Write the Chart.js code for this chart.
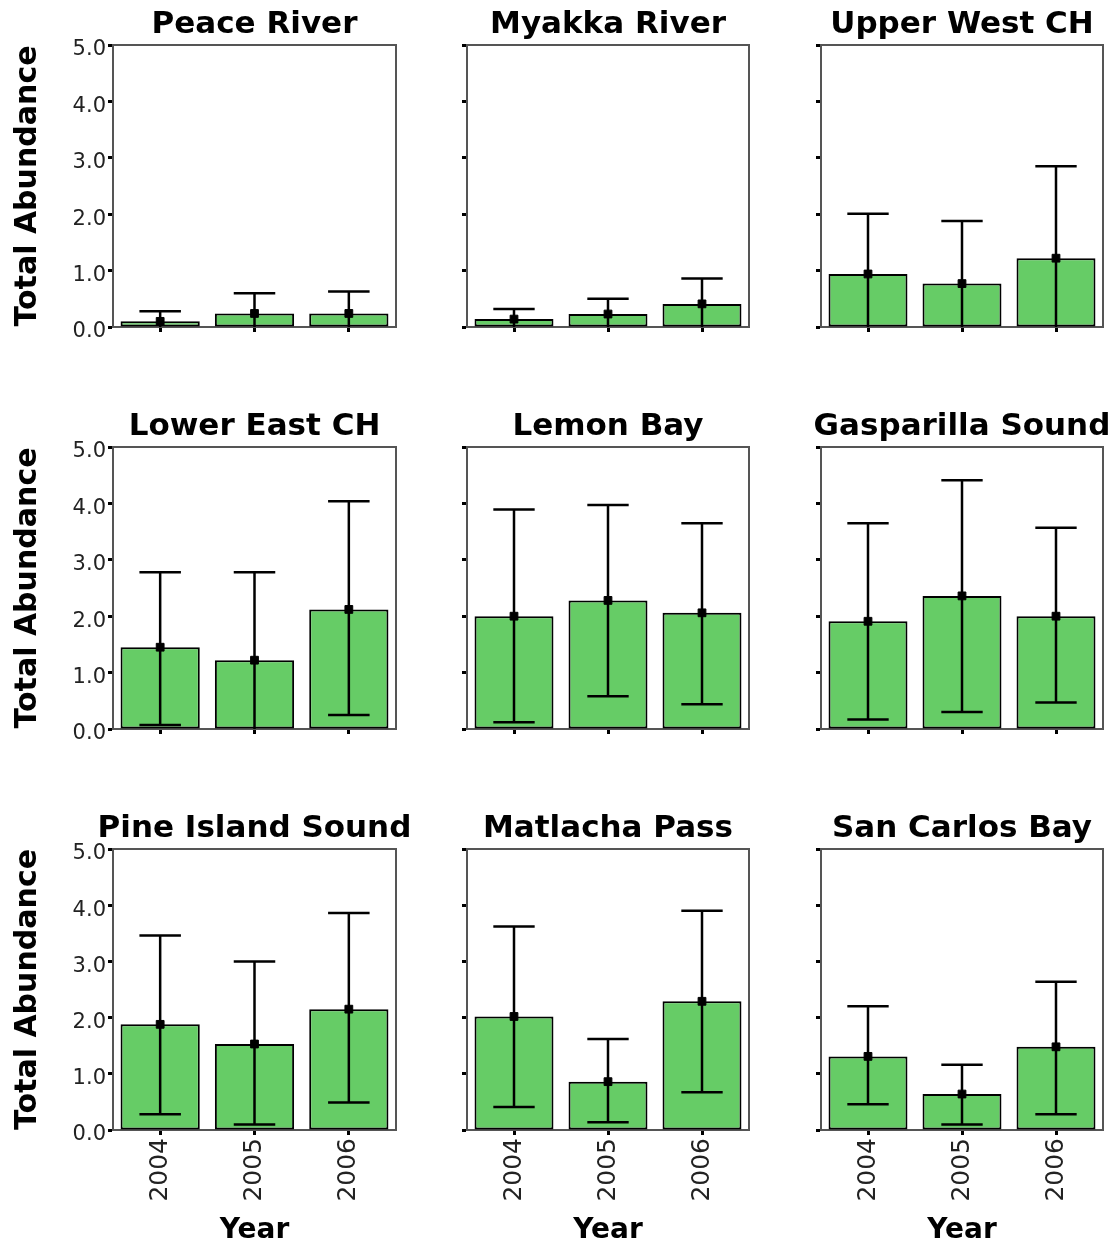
<!DOCTYPE html>
<html>
<head>
<meta charset="utf-8">
<title>Total Abundance by Year</title>
<script src="https://cdn.jsdelivr.net/npm/chart.js@4.4.1/dist/chart.umd.min.js"></script>
<style>
  html, body { margin: 0; padding: 0; background: #fff; overflow: hidden; }
  #grid { position: relative; width: 1120px; height: 1247px; }
  #grid canvas { position: absolute; }
</style>
</head>
<body>
<div id="grid"></div>
<script>
const sites = ['Peace River', 'Myakka River', 'Upper West CH',
               'Lower East CH', 'Lemon Bay', 'Gasparilla Sound',
               'Pine Island Sound', 'Matlacha Pass', 'San Carlos Bay'];
const years = ['2004', '2005', '2006'];
const yTicks = [0, 1, 2, 3, 4, 5];

// mean total abundance (bar height) per site, 2004-2006
const meanValues = [
    [0.10, 0.24, 0.24],
    [0.14, 0.23, 0.41],
    [0.94, 0.77, 1.22],
    [1.45, 1.22, 2.12],
    [2.00, 2.28, 2.06],
    [1.91, 2.36, 2.00],
    [1.88, 1.53, 2.15],
    [2.02, 0.86, 2.29],
    [1.31, 0.64, 1.48]
];
// upper end of error bar
const upperValues = [
    [0.28, 0.60, 0.63],
    [0.32, 0.50, 0.86],
    [2.01, 1.88, 2.85],
    [2.78, 2.78, 4.04],
    [3.89, 3.97, 3.65],
    [3.65, 4.41, 3.57],
    [3.46, 3.00, 3.86],
    [3.62, 1.62, 3.90],
    [2.20, 1.16, 2.64]
];
// lower end of error bar (below zero = cut off by the axis)
const lowerValues = [
    [-0.08, -0.12, -0.15],
    [-0.04, -0.04, -0.04],
    [-0.13, -0.34, -0.41],
    [0.07, -0.34, 0.25],
    [0.12, 0.58, 0.44],
    [0.17, 0.30, 0.47],
    [0.28, 0.10, 0.49],
    [0.41, 0.14, 0.67],
    [0.46, 0.10, 0.28]
];

// panel placement
const colLeft = [0, 440, 794];
const colGutter = [113, 27, 27];
const colPlotWidth = [283, 282, 282];
const rowTop = [0, 402, 804];
const rowPlotHeight = [282, 282, 281];
const rowAxisHeight = [10, 10, 116];
const titleHeight = 45;

Chart.defaults.font.family = 'DejaVu Sans';
Chart.defaults.color = '#222';

/**
 * Error bars drawn on top of the bars, using the chart's own scales
 */
function makeErrorBars(upper, lower) {
    return {
        id: 'errorBars',
        afterDatasetsDraw(chart) {
            const {ctx, scales} = chart;
            const x = scales.x, y = scales.y;
            const capHalf = (x.getPixelForValue(1) - x.getPixelForValue(0)) * 0.22;
            ctx.save();
            ctx.strokeStyle = '#000';
            ctx.lineWidth = 2.5;
            upper.forEach((hi, i) => {
                const cx = x.getPixelForValue(i);
                const top = y.getPixelForValue(hi);
                const bottom = y.getPixelForValue(Math.max(lower[i], 0));
                ctx.beginPath();
                ctx.moveTo(cx, top);
                ctx.lineTo(cx, bottom);
                ctx.moveTo(cx - capHalf, top);
                ctx.lineTo(cx + capHalf, top);
                if (lower[i] >= 0) {
                    ctx.moveTo(cx - capHalf, bottom);
                    ctx.lineTo(cx + capHalf, bottom);
                }
                ctx.stroke();
            });
            ctx.restore();
        }
    };
}

function buildPanel(index) {
    const row = Math.floor(index / 3);
    const col = index % 3;
    const gutter = colGutter[col];

    const canvas = document.createElement('canvas');
    canvas.width = gutter * 2 + colPlotWidth[col];
    canvas.height = titleHeight + rowPlotHeight[row] + rowAxisHeight[row];
    canvas.style.left = colLeft[col] + 'px';
    canvas.style.top = rowTop[row] + 'px';
    document.getElementById('grid').appendChild(canvas);

    const frame = {color: '#555', width: 2};
    const tickMarks = {drawOnChartArea: false, drawTicks: true, tickLength: 5, tickWidth: 3, tickColor: '#000'};

    new Chart(canvas.getContext('2d'), {
        type: 'bar',
        data: {
            labels: years,
            datasets: [{
                type: 'line',
                data: meanValues[index],
                showLine: false,
                pointStyle: 'rect',
                pointRadius: 5.5,
                pointBackgroundColor: '#000',
                pointBorderColor: '#000',
                xAxisID: 'x',
                yAxisID: 'y',
                order: 0
            }, {
                data: meanValues[index],
                backgroundColor: '#66cc66',
                borderColor: '#000',
                borderWidth: 2,
                borderSkipped: false,
                barPercentage: 0.84,
                categoryPercentage: 1,
                xAxisID: 'x',
                yAxisID: 'y',
                order: 1
            }]
        },
        options: {
            responsive: false,
            animation: false,
            events: [],
            layout: {padding: 0},
            plugins: {
                legend: {display: false},
                tooltip: {enabled: false},
                title: {
                    display: true,
                    text: sites[index],
                    color: '#000',
                    font: {size: 31, weight: 'bold', lineHeight: 1},
                    padding: {top: 9, bottom: 5}
                }
            },
            scales: {
                x: {
                    type: 'category',
                    position: 'bottom',
                    offset: true,
                    grid: Object.assign({offset: false}, tickMarks),
                    border: frame,
                    ticks: {
                        display: row === 2,
                        autoSkip: false,
                        minRotation: 90,
                        maxRotation: 90,
                        padding: 3,
                        color: '#222',
                        font: {size: 25}
                    },
                    title: {
                        display: row === 2,
                        text: 'Year',
                        color: '#000',
                        font: {size: 28, weight: 'bold', lineHeight: 1},
                        padding: {top: 0, bottom: 1}
                    },
                    afterFit: s => {
                        s.height = rowAxisHeight[row];
                        s.paddingLeft = 0;
                        s.paddingRight = 0;
                    }
                },
                xT: {
                    type: 'category',
                    position: 'top',
                    grid: {display: false},
                    ticks: {display: false},
                    border: frame,
                    afterFit: s => { s.height = 0; }
                },
                y: {
                    type: 'linear',
                    position: 'left',
                    min: 0,
                    max: 5,
                    afterBuildTicks: s => { s.ticks = yTicks.map(v => ({value: v})); },
                    grid: tickMarks,
                    border: frame,
                    ticks: {
                        display: col === 0,
                        callback: v => v.toFixed(1),
                        padding: 2,
                        labelOffset: 5,
                        color: '#222',
                        font: {size: 21}
                    },
                    title: {
                        display: col === 0,
                        text: 'Total Abundance',
                        color: '#000',
                        font: {size: 30, weight: 'bold', lineHeight: 1},
                        padding: {top: 13, bottom: 0}
                    },
                    afterFit: s => {
                        s.width = gutter;
                        s.paddingTop = 0;
                        s.paddingBottom = 0;
                    }
                },
                yR: {
                    type: 'linear',
                    position: 'right',
                    min: 0,
                    max: 5,
                    grid: {display: false},
                    ticks: {display: false},
                    border: frame,
                    afterFit: s => { s.width = gutter; }
                }
            }
        },
        plugins: [makeErrorBars(upperValues[index], lowerValues[index])]
    });
}

sites.forEach((site, i) => buildPanel(i));
</script>
</body>
</html>
